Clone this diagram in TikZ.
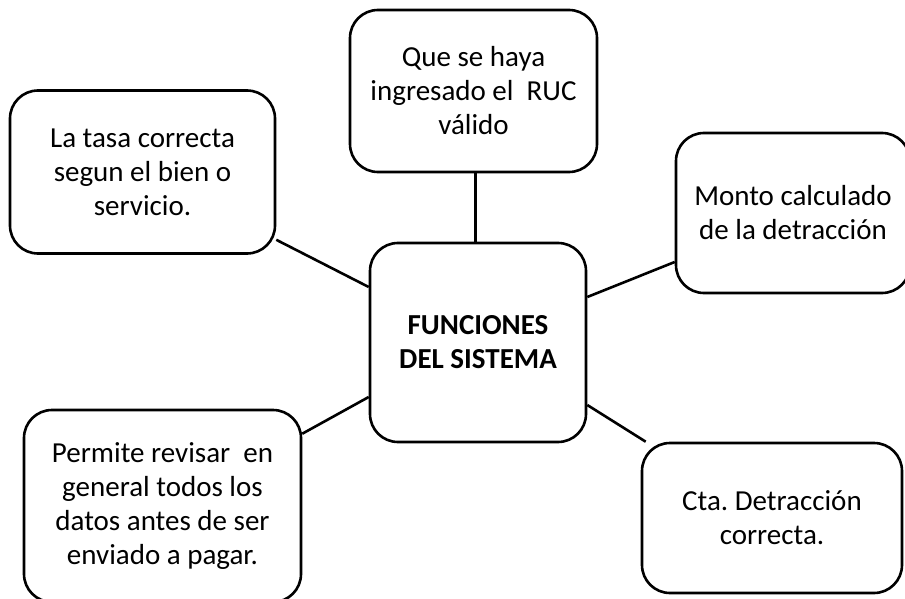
\documentclass[tikz,border=0pt]{standalone}
\usepackage{fontspec}
\setmainfont{Carlito}
\frenchspacing
\begin{document}
\begin{tikzpicture}[x=1pt,y=-1pt,
  box/.style={draw=black,line width=2.6pt,rounded corners=28pt,align=center,
    inner sep=0pt,font=\fontsize{29}{34}\selectfont},
  link/.style={draw=black,line width=2.6pt}]
\useasboundingbox[fill=white] (0,0) rectangle (905,599);
\node[box,minimum width=247pt,minimum height=162pt] (t) at (473.5,91) {Que se haya\\ingresado el\ \ RUC\\válido};
\node[box,minimum width=265pt,minimum height=163pt] (lt) at (142.5,172) {La tasa correcta\\segun el bien o\\servicio.};
\node[box,minimum width=234pt,minimum height=160pt] (rt) at (793,213) {Monto calculado\\de la detracción};
\node[box,minimum width=216pt,minimum height=199pt,font=\fontsize{29}{34}\selectfont\bfseries] (c) at (478,342.5) {FUNCIONES\\DEL SISTEMA};
\node[box,minimum width=277pt,minimum height=192pt] (bl) at (162.5,506) {Permite revisar\ \ en\\general todos los\\datos antes de ser\\enviado a pagar.};
\node[box,minimum width=260pt,minimum height=150pt] (br) at (772,518) {Cta. Detracción\\correcta.};
\draw[link] ([xshift=2pt]t.south) -- ([xshift=2pt]t.south |- c.north);
\draw[link] ([yshift=15pt]lt.south east) -- ([yshift=55.5pt]c.west);
\draw[link] ([yshift=45.5pt]c.east) -- ([yshift=-49pt]rt.west);
\draw[link] ([yshift=-25pt]bl.north east) -- ([yshift=-54.5pt]c.west);
\draw[link] ([yshift=-62.5pt]c.east) -- ([xshift=5pt]br.north west);
\end{tikzpicture}
\end{document}
